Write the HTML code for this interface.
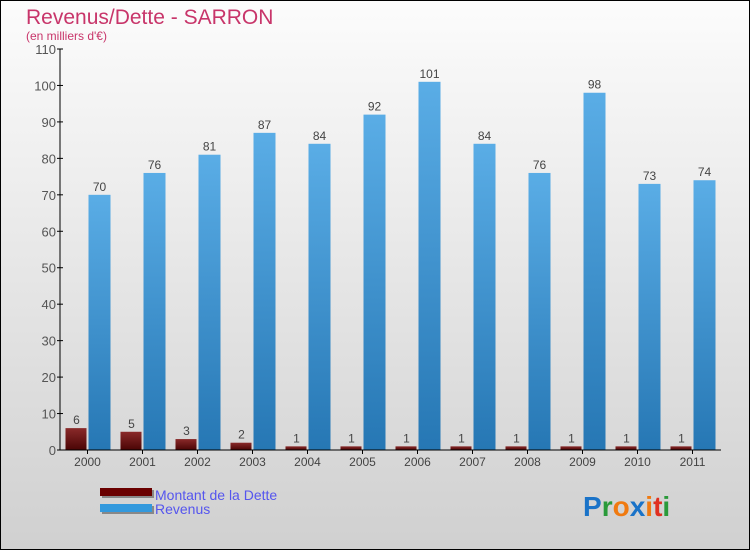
<!DOCTYPE html>
<html><head><meta charset="utf-8"><style>
body{margin:0;width:750px;height:550px;overflow:hidden;font-family:"Liberation Sans",sans-serif}
</style></head><body>
<svg width="750" height="550" xmlns="http://www.w3.org/2000/svg">
<defs>
<linearGradient id="bg" x1="0" y1="0" x2="0" y2="1"><stop offset="0" stop-color="#fcfcfc"/><stop offset="1" stop-color="#d0d0d0"/></linearGradient>
<linearGradient id="rev" x1="0" y1="0" x2="0" y2="1"><stop offset="0" stop-color="#5aade6"/><stop offset="1" stop-color="#2677b4"/></linearGradient>
<linearGradient id="det" x1="0" y1="0" x2="0" y2="1"><stop offset="0" stop-color="#8a2a2a"/><stop offset="1" stop-color="#4a0505"/></linearGradient>
</defs>
<rect x="0.5" y="0.5" width="749" height="549" fill="url(#bg)" stroke="#000"/>
<text x="26" y="24" font-size="21" fill="#c8356a">Revenus/Dette - SARRON</text>
<text x="26" y="40" font-size="12" fill="#c8356a">(en milliers d'€)</text>
<g id="plot"></g>
<g>
<rect x="102" y="490" width="52" height="8" fill="#888"/><rect x="100" y="488" width="52" height="8" fill="#6a0000"/>
<text x="155" y="500" font-size="14" fill="#5555ee">Montant de la Dette</text>
<rect x="102" y="506" width="52" height="8" fill="#888"/><rect x="100" y="504" width="52" height="8" fill="#3399dd"/>
<text x="155" y="514" font-size="14" fill="#5555ee">Revenus</text>
</g>
<g font-size="28" font-weight="bold">
<text x="583" y="516"><tspan fill="#1a73c8">P</tspan><tspan fill="#2a9a3a">r</tspan><tspan fill="#f07a10">o</tspan><tspan fill="#1a73c8">x</tspan><tspan fill="#f07a10">i</tspan><tspan fill="#e03020">t</tspan><tspan fill="#2a9a3a">i</tspan></text>
</g>
</svg>
<script>
const years=["2000","2001","2002","2003","2004","2005","2006","2007","2008","2009","2010","2011"];
const dette=[6,5,3,2,1,1,1,1,1,1,1,1];
const revenus=[70,76,81,87,84,92,101,84,76,98,73,74];
const yTicks=[0,10,20,30,40,50,60,70,80,90,100,110];
const NS="http://www.w3.org/2000/svg";
const g=document.getElementById('plot');
const x0=60,x1=721,yB=450,yT=49,yMax=110,gw=55;
const y=v=>yB-(v/yMax)*(yB-yT);
const xc=i=>x0+gw*i+gw/2;
function mk(t,a,txt){const e=document.createElementNS(NS,t);for(const k in a)e.setAttribute(k,a[k]);if(txt!==undefined)e.textContent=txt;g.appendChild(e);return e;}
yTicks.forEach(v=>{
 const t=mk('line',{x1:x0-3,x2:x0+3,y1:y(v),y2:y(v),stroke:'#000'});
 
 
 const l=mk('text',{x:x0-4,y:y(v)+5,'font-size':13,fill:'#555','text-anchor':'end'},v);
 
 
});
years.forEach((yr,i)=>{
 const c=xc(i);
 const d=mk('rect',{x:c-22,y:y(dette[i]),width:21,height:yB-y(dette[i]),fill:'url(#det)'});
 
 
 const r=mk('rect',{x:c+1,y:y(revenus[i]),width:22,height:yB-y(revenus[i]),fill:'url(#rev)'});
 
 
 const dl=mk('text',{x:c-11,y:y(dette[i])-4,'font-size':12,fill:'#444','text-anchor':'middle'},dette[i]);
 
 
 const rl=mk('text',{x:c+12,y:y(revenus[i])-4,'font-size':12,fill:'#444','text-anchor':'middle'},revenus[i]);
 
 
 const t=mk('line',{x1:c,x2:c,y1:yB,y2:yB+4,stroke:'#000'});
 
 
 const xl=mk('text',{x:c,y:yB+16,'font-size':12,fill:'#444','text-anchor':'middle'},yr);
 
 
});
const ya=mk('line',{x1:x0,x2:x0,y1:yT,y2:yB,stroke:'#000'});


const xa=mk('line',{x1:x0,x2:x1,y1:yB,y2:yB,stroke:'#000'});


</script>
</body></html>
